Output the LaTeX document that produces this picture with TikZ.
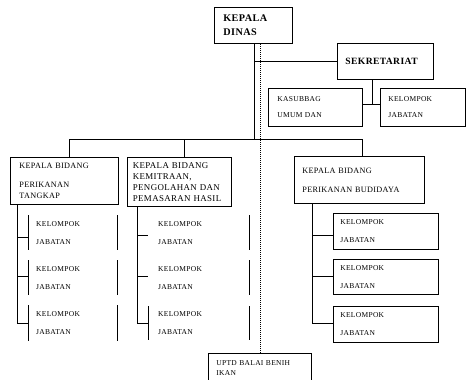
\documentclass[tikz,border=0pt]{standalone}
\usepackage{fontspec}
\usepackage{tikz}
\newfontfamily\orgfont[LetterSpace=4]{Liberation Serif}
\newcommand{\topfont}{\orgfont\bfseries\fontsize{10.2}{14}\selectfont}
\newcommand{\sekfont}{\orgfont\bfseries\fontsize{9.6}{12}\selectfont}
\newcommand{\headfont}{\orgfont\fontsize{8.2}{11}\selectfont}
\newcommand{\midfont}{\orgfont\fontsize{8.9}{11}\selectfont}
\newcommand{\subfont}{\orgfont\fontsize{7.5}{10}\selectfont}
\newcommand{\uptdfont}{\orgfont\fontsize{7.5}{10}\selectfont}

\begin{document}
\begin{tikzpicture}[x=1pt, y=-1pt,
    box/.style={draw, line width=0.8pt, anchor=north west, inner sep=0pt, align=left},
    openbox/.style={anchor=north west, inner sep=0pt, align=left},
    link/.style={line width=0.8pt},
    dotline/.style={line width=0.6pt, dash pattern=on 1pt off 1pt}]
      \useasboundingbox (0,0) rectangle (466,380);

      \node[box, minimum width=78, minimum height=36, text width=60, font=\topfont] (dinas) at (214,7) {KEPALA\\DINAS};
      \node[box, minimum width=96, minimum height=36, text width=80, font=\sekfont] (sekre) at (337,43) {SEKRETARIAT};
      \node[box, minimum width=94, minimum height=38, text width=76, font=\subfont] (kasub) at (268,88) {KASUBBAG\\[6pt]UMUM DAN};
      \node[box, minimum width=85, minimum height=38, text width=69, font=\subfont] (kelsek) at (380,88) {KELOMPOK\\[6pt]JABATAN};

      \node[box, minimum width=108, minimum height=47, text width=90, font=\headfont] (kb1) at (10,157) {KEPALA BIDANG\\[8pt]PERIKANAN\\TANGKAP};
      \node[box, minimum width=104, minimum height=49, text width=93, font=\midfont] (kb2) at (127,157) {KEPALA BIDANG\\KEMITRAAN,\\PENGOLAHAN DAN\\PEMASARAN HASIL};
      \node[box, minimum width=130, minimum height=47, text width=114, font=\headfont] (kb3) at (294,156) {KEPALA BIDANG\\[8pt]PERIKANAN BUDIDAYA};

      \node[openbox, minimum width=89, minimum height=35, text width=73, font=\subfont] (k11) at (28,215) {KELOMPOK\\[8pt]JABATAN};
      \node[openbox, minimum width=89, minimum height=35, text width=73, font=\subfont] (k12) at (28,260) {KELOMPOK\\[8pt]JABATAN};
      \node[openbox, minimum width=89, minimum height=36, text width=73, font=\subfont] (k13) at (28,305) {KELOMPOK\\[8pt]JABATAN};

      \node[openbox, minimum width=101, minimum height=35, text width=81, font=\subfont] (k21) at (148,215) {KELOMPOK\\[8pt]JABATAN};
      \node[openbox, minimum width=101, minimum height=35, text width=81, font=\subfont] (k22) at (148,260) {KELOMPOK\\[8pt]JABATAN};
      \node[openbox, minimum width=101, minimum height=34, text width=81, font=\subfont] (k23) at (148,306) {KELOMPOK\\[8pt]JABATAN};

      \node[box, minimum width=105, minimum height=36, text width=91, font=\subfont] (k31) at (333,213) {KELOMPOK\\[8pt]JABATAN};
      \node[box, minimum width=105, minimum height=35, text width=91, font=\subfont] (k32) at (333,259) {KELOMPOK\\[8pt]JABATAN};
      \node[box, minimum width=105, minimum height=36, text width=91, font=\subfont] (k33) at (333,306) {KELOMPOK\\[8pt]JABATAN};

      \node[box, minimum width=103, minimum height=30, text width=87, font=\uptdfont] (uptd) at (208,353) {UPTD BALAI BENIH\\IKAN};

      \coordinate (trunk) at (254,139);
      \coordinate (bus1) at (69,139);
      \coordinate (bus2) at (184,139);
      \coordinate (bus3) at (362,139);
      \coordinate (sj) at (372,104);
      \coordinate (sp1) at (17,323);
      \coordinate (sp2) at (137,323);
      \coordinate (sp3) at (312,323);

      \draw[link] (trunk |- dinas.south) -- (trunk);
      \draw[link] (trunk |- sekre.west) -- (sekre.west);
      \draw[link] (sj |- sekre.south) -- (sj);
      \draw[link] (kasub.east |- sj) -- (kelsek.west |- sj);
      \draw[dotline] (uptd.north) -- (uptd.north |- dinas.south);

      \draw[link] (bus1) -- (bus3);
      \draw[link] (bus1) -- (bus1 |- kb1.north);
      \draw[link] (bus2) -- (bus2 |- kb2.north);
      \draw[link] (bus3) -- (bus3 |- kb3.north);

      \draw[link] (sp1 |- kb1.south) -- (sp1) -- (k13.west |- sp1);
      \draw[link] (sp1 |- 0,237) -- (k11.west |- 0,237);
      \draw[link] (sp1 |- 0,276) -- (k12.west |- 0,276);
      \draw[link] (k11.north west) -- (k11.south west) (k11.north east) -- (k11.south east);
      \draw[link] (k12.north west) -- (k12.south west) (k12.north east) -- (k12.south east);
      \draw[link] (k13.north west) -- (k13.south west) (k13.north east) -- (k13.south east);

      \draw[link] (sp2 |- kb2.south) -- (sp2) -- (k23.west |- sp2);
      \draw[link] (sp2 |- 0,235) -- (k21.west |- 0,235);
      \draw[link] (sp2 |- 0,276) -- (k22.west |- 0,276);
      \draw[link] (k21.north east) -- (k21.south east);
      \draw[link] (k22.north east) -- (k22.south east);
      \draw[link] (k23.north west) -- (k23.south west) (k23.north east) -- (k23.south east);

      \draw[link] (sp3 |- kb3.south) -- (sp3) -- (k33.west |- sp3);
      \draw[link] (sp3 |- 0,235) -- (k31.west |- 0,235);
      \draw[link] (sp3 |- 0,276) -- (k32.west |- 0,276);
\end{tikzpicture}
\end{document}
